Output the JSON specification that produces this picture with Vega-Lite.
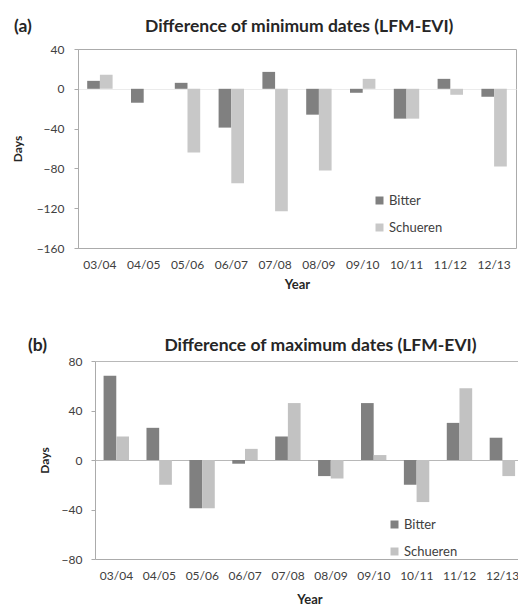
{
  "$schema": "https://vega.github.io/schema/vega-lite/v6.json",
  "padding": {"left": 10, "top": 17, "right": 0, "bottom": 0},
  "background": "white",
  "spacing": 44,
  "config": {
    "font": "Lato",
    "view": {"stroke": null},
    "axis": {
      "labelFont": "Lato", "labelFontSize": 12, "labelColor": "#404040",
      "titleFont": "Lato", "titleFontSize": 13, "titleFontWeight": "bold", "titleColor": "#262626",
      "grid": false, "domainColor": "#ababab", "tickColor": "#ababab", "labelOverlap": false
    },
    "legend": {
      "labelFont": "Lato", "labelFontSize": 13, "labelColor": "#404040",
      "symbolType": "square", "symbolSize": 64, "symbolStrokeWidth": 0,
      "rowPadding": 13, "labelOffset": 3, "title": null
    },
    "title": {"font": "Lato", "fontSize": 17.5, "fontWeight": "bold", "color": "#262626", "anchor": "start", "frame": "group"}
  },
  "resolve": {"scale": {"color": "independent"}, "legend": {"color": "independent"}},
  "vconcat": [
    {
      "width": 438,
      "height": 199,
      "view": {"stroke": "#ababab", "strokeWidth": 1},
      "title": {"text": "(a)\u2003\u2003\u2003\u2003\u2003\u2003\u2003\u00a0\u00a0\u00a0\u00a0\u00a0Difference of minimum dates (LFM-EVI)", "dx": -64, "offset": 8},
      "data": {"values": [
        {"year": "03/04", "series": "Bitter", "days": 8},
        {"year": "03/04", "series": "Schueren", "days": 14},
        {"year": "04/05", "series": "Bitter", "days": -14},
        {"year": "04/05", "series": "Schueren", "days": 0},
        {"year": "05/06", "series": "Bitter", "days": 6},
        {"year": "05/06", "series": "Schueren", "days": -64},
        {"year": "06/07", "series": "Bitter", "days": -39},
        {"year": "06/07", "series": "Schueren", "days": -95},
        {"year": "07/08", "series": "Bitter", "days": 17},
        {"year": "07/08", "series": "Schueren", "days": -123},
        {"year": "08/09", "series": "Bitter", "days": -26},
        {"year": "08/09", "series": "Schueren", "days": -82},
        {"year": "09/10", "series": "Bitter", "days": -4},
        {"year": "09/10", "series": "Schueren", "days": 10},
        {"year": "10/11", "series": "Bitter", "days": -30},
        {"year": "10/11", "series": "Schueren", "days": -30},
        {"year": "11/12", "series": "Bitter", "days": 10},
        {"year": "11/12", "series": "Schueren", "days": -6},
        {"year": "12/13", "series": "Bitter", "days": -8},
        {"year": "12/13", "series": "Schueren", "days": -78}
      ]},
      "mark": {"type": "bar"},
      "encoding": {
        "x": {"field": "year", "type": "nominal", "sort": null,
              "scale": {"paddingInner": 0.42, "paddingOuter": 0.21},
              "axis": {"title": "Year", "labelAngle": 0, "ticks": false, "tickSize": 0, "domain": false, "labelPadding": 11, "titlePadding": 8}},
        "xOffset": {"field": "series", "type": "nominal", "sort": ["Bitter", "Schueren"]},
        "y": {"field": "days", "type": "quantitative",
              "scale": {"domain": [-160, 40], "nice": false},
              "axis": {"title": "Days", "values": [-160, -120, -80, -40, 0, 40], "tickSize": 4, "labelPadding": 10, "titlePadding": 12, "titleFontSize": 12,
                       "grid": true, "gridColor": {"condition": {"test": "datum.value === 0", "value": "#ebebeb"}, "value": "transparent"}}},
        "color": {"field": "series", "type": "nominal", "sort": ["Bitter", "Schueren"],
                  "scale": {"domain": ["Bitter", "Schueren"], "range": ["#808080", "#c8c8c8"]},
                  "legend": {"orient": "none", "legendX": 295, "legendY": 145}}
      }
    },
    {
      "width": 446,
      "height": 198,
      "title": {"text": "(b)\u2003\u2003\u2003\u2003\u2003\u2003\u2003\u00a0\u00a0\u00a0\u00a0\u00a0\u00a0Difference of maximum dates (LFM-EVI)", "dx": -50, "offset": 1},
      "data": {"values": [
        {"year": "03/04", "series": "Bitter", "days": 68},
        {"year": "03/04", "series": "Schueren", "days": 19},
        {"year": "04/05", "series": "Bitter", "days": 26},
        {"year": "04/05", "series": "Schueren", "days": -20},
        {"year": "05/06", "series": "Bitter", "days": -39},
        {"year": "05/06", "series": "Schueren", "days": -39},
        {"year": "06/07", "series": "Bitter", "days": -3},
        {"year": "06/07", "series": "Schueren", "days": 9},
        {"year": "07/08", "series": "Bitter", "days": 19},
        {"year": "07/08", "series": "Schueren", "days": 46},
        {"year": "08/09", "series": "Bitter", "days": -13},
        {"year": "08/09", "series": "Schueren", "days": -15},
        {"year": "09/10", "series": "Bitter", "days": 46},
        {"year": "09/10", "series": "Schueren", "days": 4},
        {"year": "10/11", "series": "Bitter", "days": -20},
        {"year": "10/11", "series": "Schueren", "days": -34},
        {"year": "11/12", "series": "Bitter", "days": 30},
        {"year": "11/12", "series": "Schueren", "days": 58},
        {"year": "12/13", "series": "Bitter", "days": 18},
        {"year": "12/13", "series": "Schueren", "days": -13}
      ]},
      "mark": {"type": "bar"},
      "encoding": {
        "x": {"field": "year", "type": "nominal", "sort": null,
              "scale": {"paddingInner": 0.4, "paddingOuter": 0.2, "range": [17, 446]},
              "axis": {"title": "Year", "labelAngle": 0, "ticks": false, "tickSize": 0, "domain": true, "labelPadding": 11, "titlePadding": 12}},
        "xOffset": {"field": "series", "type": "nominal", "sort": ["Bitter", "Schueren"]},
        "y": {"field": "days", "type": "quantitative",
              "scale": {"domain": [-80, 80], "nice": false},
              "axis": {"title": "Days", "values": [-80, -40, 0, 40, 80], "tickSize": 4, "labelPadding": 9, "titlePadding": 10, "titleFontSize": 12, "offset": -17,
                       "grid": true, "gridColor": {"condition": {"test": "datum.value === 0 || datum.value === 80", "value": "#b8b8b8"}, "value": "transparent"}}},
        "color": {"field": "series", "type": "nominal", "sort": ["Bitter", "Schueren"],
                  "scale": {"domain": ["Bitter", "Schueren"], "range": ["#808080", "#c2c2c2"]},
                  "legend": {"orient": "none", "legendX": 310, "legendY": 157}}
      }
    }
  ]
}
